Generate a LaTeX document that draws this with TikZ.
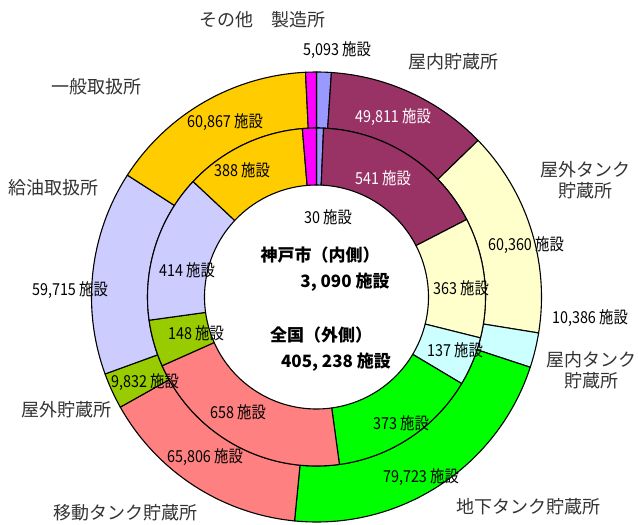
\documentclass[tikz,border=0pt]{standalone}
\usepackage{fontspec}
\setmainfont{Noto Sans CJK JP}
\newfontfamily\numfont[FakeStretch=0.87]{Noto Sans CJK JP}
\definecolor{cSeizo}{HTML}{9999FF}
\definecolor{cOkunai}{HTML}{993366}
\definecolor{cOkugaiT}{HTML}{FFFFCC}
\definecolor{cOkunaiT}{HTML}{CCFFFF}
\definecolor{cChika}{HTML}{00FF00}
\definecolor{cIdo}{HTML}{FF8080}
\definecolor{cOkugai}{HTML}{99CC00}
\definecolor{cKyuyu}{HTML}{CCCCFF}
\definecolor{cIppan}{HTML}{FFCC00}
\definecolor{cSonota}{HTML}{FF00FF}
\definecolor{catgray}{HTML}{333333}
\newcommand\donutseg[5]{%
  \filldraw[fill=#5, draw=black, line width=1.1pt, line join=round]
   ({90-#1}:#4) arc[start angle={90-#1}, end angle={90-#2}, radius=#4]
   -- ({90-#2}:#3) arc[start angle={90-#2}, end angle={90-#1}, radius=#3] -- cycle;}
\tikzset{
  numlbl/.style={font=\numfont\fontsize{16.5}{16.5}\selectfont, inner sep=0pt, text=black},
  numwhite/.style={numlbl, text=white},
  catlbl/.style={font=\fontsize{18}{21}\selectfont, inner sep=0pt, text=catgray, align=center},
  ctrlbl/.style={font=\fontsize{17}{17}\selectfont\bfseries, inner sep=0pt, text=black}
}
\begin{document}
\begin{tikzpicture}[x=1pt,y=1pt]
\useasboundingbox[fill=white] (0,0) rectangle (638,-525);
\begin{scope}[shift={(316.5,-297)}]
% outer ring
\donutseg{0}{3.8}{169pt}{225pt}{cSeizo}
\donutseg{3.8}{45.9}{169pt}{225pt}{cOkunai}
\donutseg{45.9}{99.2}{169pt}{225pt}{cOkugaiT}
\donutseg{99.2}{108.2}{169pt}{225pt}{cOkunaiT}
\donutseg{108.2}{185.6}{169pt}{225pt}{cChika}
\donutseg{185.6}{240.7}{169pt}{225pt}{cIdo}
\donutseg{240.7}{250}{169pt}{225pt}{cOkugai}
\donutseg{250}{302.8}{169pt}{225pt}{cKyuyu}
\donutseg{302.8}{357.2}{169pt}{225pt}{cIppan}
\donutseg{357.2}{360}{169pt}{225pt}{cSonota}
% inner ring
\donutseg{0}{2.4}{112pt}{169pt}{cSeizo}
\donutseg{2.4}{62.7}{112pt}{169pt}{cOkunai}
\donutseg{62.7}{104}{112pt}{169pt}{cOkugaiT}
\donutseg{104}{120.8}{112pt}{169pt}{cOkunaiT}
\donutseg{120.8}{172.2}{112pt}{169pt}{cChika}
\donutseg{172.2}{246}{112pt}{169pt}{cIdo}
\donutseg{246}{262.1}{112pt}{169pt}{cOkugai}
\donutseg{262.1}{313.1}{112pt}{169pt}{cKyuyu}
\donutseg{313.1}{355.2}{112pt}{169pt}{cIppan}
\donutseg{355.2}{360}{112pt}{169pt}{cSonota}
\end{scope}
% category labels
\node[catlbl] (lSonota) at (262,-20) {その他　製造所};
\node[catlbl] (lOkunai) at (453,-62) {屋内貯蔵所};
\node[catlbl] (lIppan) at (96,-87) {一般取扱所};
\node[catlbl] (lKyuyu) at (54,-188) {給油取扱所};
\node[catlbl] (lOkugaiT) at (585,-180) {屋外タンク\\貯蔵所};
\node[catlbl] (lOkunaiT) at (591,-370) {屋内タンク\\貯蔵所};
\node[catlbl] (lOkugai) at (66,-410) {屋外貯蔵所};
\node[catlbl] (lIdo) at (125,-513) {移動タンク貯蔵所};
\node[catlbl] (lChika) at (528,-507) {地下タンク貯蔵所};
% outer values
\node[numlbl] (vSeizo) at (337,-50) {5,093 施設};
\node[numwhite] (vOkunai) at (393,-117) {49,811 施設};
\node[numlbl] (vIppan) at (225,-122) {60,867 施設};
\node[numlbl] (vKyuyu) at (70,-290) {59,715 施設};
\node[numlbl] (vOkugaiT) at (526,-245) {60,360 施設};
\node[numlbl] (vOkunaiT) at (590,-318) {10,386 施設};
\node[numlbl] (vChika) at (421,-477) {79,723 施設};
\node[numlbl] (vIdo) at (205,-457) {65,806 施設};
\node[numlbl] (vOkugai) at (145,-382) {9,832 施設};
% inner values
\node[numlbl] (iSeizo) at (328,-217) {30 施設};
\node[numwhite] (iOkunai) at (383,-178) {541 施設};
\node[numlbl] (iIppan) at (242,-170) {388 施設};
\node[numlbl] (iKyuyu) at (187,-270) {414 施設};
\node[numlbl] (iOkugaiT) at (461,-288) {363 施設};
\node[numlbl] (iOkunaiT) at (455,-350) {137 施設};
\node[numlbl] (iChika) at (401,-423) {373 施設};
\node[numlbl] (iIdo) at (238,-412) {658 施設};
\node[numlbl] (iOkugai) at (196,-333) {148 施設};
% centre
\node[ctrlbl] (cKobe) at (320,-255) {神戸市（内側）};
\node[ctrlbl] (cKobeN) at (345,-282) {3, 090 施設};
\node[ctrlbl] (cZenkoku) at (321,-335) {全国（外側）};
\node[ctrlbl] (cZenkokuN) at (336,-362) {405, 238 施設};
\end{tikzpicture}
\end{document}
